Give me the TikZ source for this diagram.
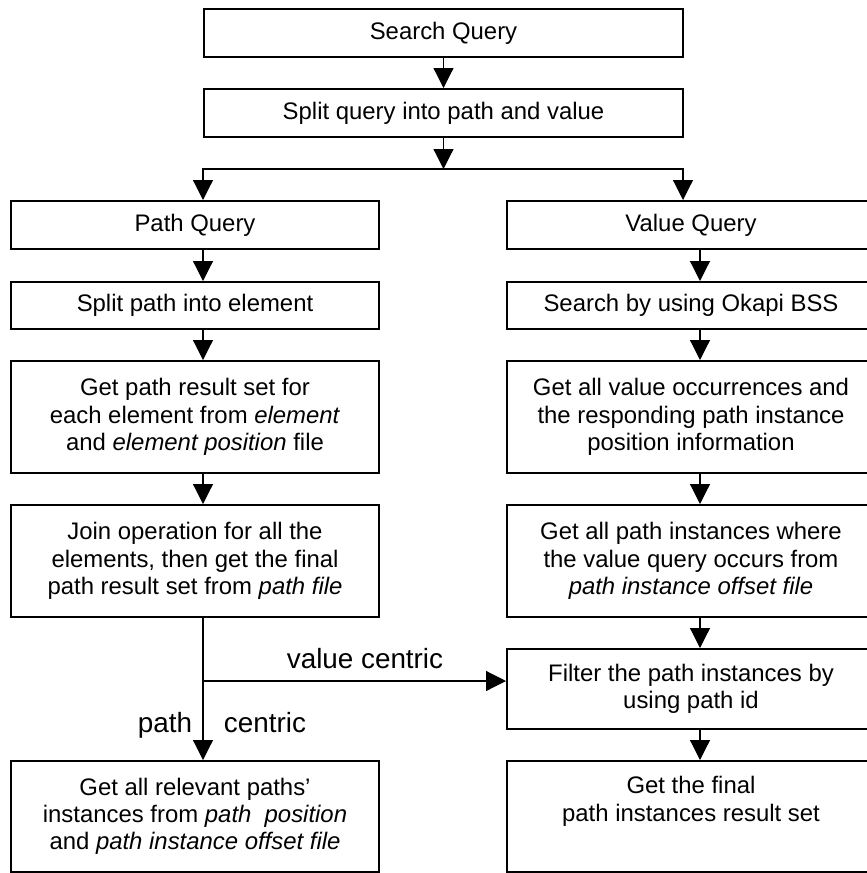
\documentclass[tikz,border=0pt]{standalone}
\usepackage{fontspec}
\setmainfont{Liberation Sans}
\usetikzlibrary{arrows.meta,calc,positioning}

\begin{document}
\begin{tikzpicture}[x=0.25mm, y=-0.25mm,
  >={Triangle[length=5mm,width=5mm]},
  font=\fontsize{17}{19.4}\selectfont,
  box/.style={draw=black, line width=0.5mm, align=center, inner sep=2pt},
  wide/.style={box, minimum width=119.75mm, minimum height=12mm},
  col/.style={box, minimum width=92mm},
  link/.style={line width=0.3mm, black},
  lab/.style={font=\fontsize{19.8}{22}\selectfont}]

\useasboundingbox (0,0) rectangle (866,873);

% top
\node[wide] (search) at (443.5,33) {Search Query};
\node[wide] (split) at (443.5,113) {Split query into path and value};

% path side
\node[col, minimum height=12mm] (pq) at (195,225) {Path Query};
\node[col, minimum height=11.75mm] (spe) at (195,305.5) {Split path into element};
\node[col, minimum height=28mm] (gps) at (195,417)
  {Get path result set for\\each element from \textit{element}\\and \textit{element position} file};
\node[col, minimum height=28mm] (join) at (195,561)
  {Join operation for all the\\elements, then get the final\\path result set from \textit{path file}};
\node[col, minimum height=27.75mm] (rel) at (195,816.5)
  {Get all relevant paths'\\instances from \textit{path\ \ position}\\and \textit{path instance offset file}};

% value side
\node[col, minimum height=12mm] (vq) at (691,225) {Value Query};
\node[col, minimum height=11.75mm] (okapi) at (691,305.5) {Search by using Okapi BSS};
\node[col, minimum height=28mm] (occ) at (691,417)
  {Get all value occurrences and\\the responding path instance\\position information};
\node[col, minimum height=28mm] (inst) at (691,561)
  {Get all path instances where\\the value query occurs from\\\textit{path instance offset file}};
\node[col, minimum height=20mm] (filt) at (691,689)
  {Filter the path instances by\\using path id};
\node[col, minimum height=27.75mm] (final) at (691,816.5)
  {Get the final\\path instances result set\\\strut};

% column lines
\coordinate (lc) at (203,0);
\coordinate (rc) at (700,0);
\coordinate (rf) at (683,0);
\coordinate (fk) at (443.5,169);
\coordinate (vc) at (203,681);

% arrows
\draw[link, ->] (search) -- (split);
\draw[link, ->] (split) -- (fk);
\draw[link, ->] (fk) -| (pq.north -| lc);
\draw[link, ->] (fk) -| (vq.north -| rf);

\draw[link, ->] (pq.south -| lc) -- (spe.north -| lc);
\draw[link, ->] (spe.south -| lc) -- (gps.north -| lc);
\draw[link, ->] (gps.south -| lc) -- (join.north -| lc);
\draw[link, ->] (join.south -| lc) -- (rel.north -| lc);

\draw[link, ->] (vq.south -| rc) -- (okapi.north -| rc);
\draw[link, ->] (okapi.south -| rc) -- (occ.north -| rc);
\draw[link, ->] (occ.south -| rc) -- (inst.north -| rc);
\draw[link, ->] (inst.south -| rc) -- (filt.north -| rc);
\draw[link, ->] (filt.south -| rc) -- (final.north -| rc);

\draw[link, ->] (vc) -- (filt.west |- vc);

% labels
\node[lab, anchor=base] (vclab) at (365,668) {value centric};
\node[lab, anchor=base east] (pclab) at (197,732) {path};
\node[lab, anchor=base west] (cclab) at (219,732) {centric};
\end{tikzpicture}
\end{document}
